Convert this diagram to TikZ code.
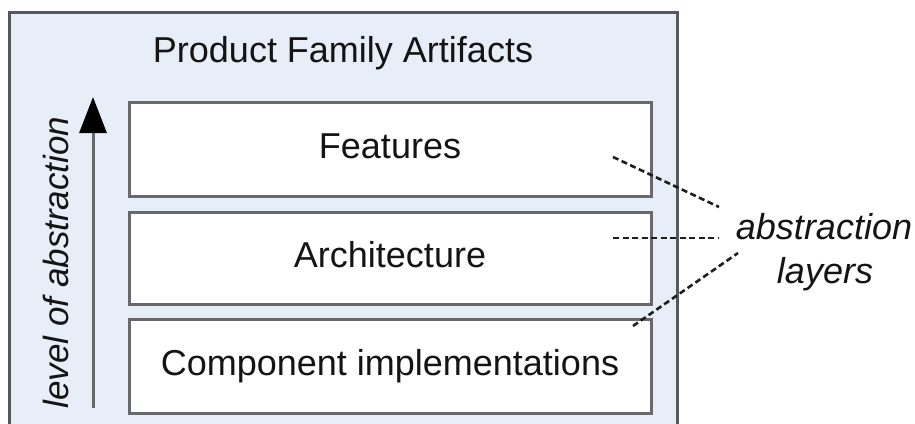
\documentclass[tikz,border=0pt]{standalone}
\usepackage{fontspec}
\setmainfont{Liberation Sans}
\usetikzlibrary{arrows.meta}
\definecolor{panelfill}{HTML}{E7EEF8}
\definecolor{panelline}{HTML}{55585E}
\definecolor{boxline}{HTML}{67696D}
\definecolor{inkcol}{HTML}{141414}
\definecolor{dashcol}{HTML}{1E1E1E}
\tikzset{
  layerbox/.style={draw=boxline, fill=white, line width=3pt},
  layertext/.style={anchor=base, font=\fontsize{36}{40}\selectfont, text=inkcol, inner sep=0pt},
  noteline/.style={draw=dashcol, line width=2.6pt, dash pattern=on 6pt off 3.5pt},
  notetext/.style={anchor=base, font=\fontsize{36}{40}\selectfont\itshape, text=inkcol, inner sep=0pt},
}
\begin{document}
\begin{tikzpicture}[x=1pt, y=-1pt]
  \useasboundingbox (0,0) rectangle (915,423);
  % outer panel (open at the lower edge of the page)
  \fill[panelfill] (9,12) rectangle (677,430);
  \draw[panelline, line width=3pt] (9,430) -- (9,12) -- (677,12) -- (677,430);
  \node[layertext] (title) at (343,62) {Product Family Artifacts};

  % the three layers
  \draw[layerbox] (129,102) rectangle (651,196);
  \draw[layerbox] (129,212) rectangle (651,304);
  \draw[layerbox] (129,319) rectangle (651,413);
  \node[layertext] (features) at (390,158) {Features};
  \node[layertext] (arch) at (390,267) {Architecture};
  \node[layertext] (comp) at (390,375) {Component implementations};

  % level of abstraction axis
  \coordinate (axisbot) at (93,408);
  \coordinate (axistop) at (93,97);
  \draw[boxline, line width=3pt, -{Triangle[width=27pt, length=36pt, color=black]}] (axisbot) -- (axistop);
  \node[notetext, rotate=90, font=\fontsize{35}{40}\selectfont\itshape] (axislabel) at (68,262.5) {level of abstraction};

  % annotation
  \node[notetext] (abs1) at (824,239) {abstraction};
  \node[notetext] (abs2) at (825,283) {layers};
  \coordinate (f1) at (613,157);
  \coordinate (f2) at (719,207);
  \coordinate (a1) at (613,238);
  \coordinate (a2) at (719,238);
  \coordinate (c1) at (633,326);
  \coordinate (c2) at (738,253);
  \draw[noteline] (f1) -- (f2);
  \draw[noteline] (a1) -- (a2);
  \draw[noteline] (c1) -- (c2);
\end{tikzpicture}
\end{document}
